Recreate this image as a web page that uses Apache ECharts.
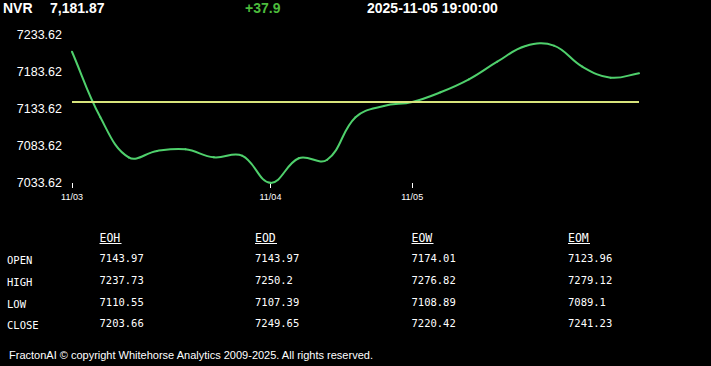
<!DOCTYPE html>
<html>
<head>
<meta charset="utf-8">
<script src="https://cdn.jsdelivr.net/npm/echarts@6/dist/echarts.min.js"></script>
<style>
html,body{margin:0;padding:0;background:#000;}
#chart{width:711px;height:366px;}
</style>
</head>
<body>
<div id="chart"></div>
<script>
// ---- data ----
const symbolName = 'NVR';
const lastPrice = '7,181.87';
const change = '+37.9';
const timestamp = '2025-11-05 19:00:00';
const openValue = 7143.97;

const categories = ['11/03','11/03','11/03','11/03','11/03','11/03','11/03',
                    '11/04','11/04','11/04','11/04','11/04',
                    '11/05','11/05','11/05','11/05','11/05','11/05','11/05','11/05','11/05'];
const prices = [7211.0, 7122.4, 7068.3, 7076.9, 7079.2, 7068.3, 7070.5,
                7033.8, 7067.0, 7065.0, 7122.4, 7137.7,
                7143.1, 7156.2, 7173.7, 7197.5, 7218.8, 7219.2, 7190.8, 7176.0, 7181.87];

const yMin = 7033.62, yMax = 7233.62, yStep = 50;

const tableCols = ['EOH', 'EOD', 'EOW', 'EOM'];
const tableRows = ['OPEN', 'HIGH', 'LOW', 'CLOSE'];
const colEOH = ['7143.97', '7237.73', '7110.55', '7203.66'];
const colEOD = ['7143.97', '7250.2', '7107.39', '7249.65'];
const colEOW = ['7174.01', '7276.82', '7108.89', '7220.42'];
const colEOM = ['7123.96', '7279.12', '7089.1', '7241.23'];
const tableData = [colEOH, colEOD, colEOW, colEOM];

const footer = 'FractonAI \u00A9 copyright Whitehorse Analytics 2009-2025. All rights reserved.';

// ---- chart ----
const chart = echarts.init(document.getElementById('chart'), null, {renderer: 'svg'});

const showDay = (idx) => idx === 0 || categories[idx] !== categories[idx - 1];

const graphics = [];
const hdrFont = 'bold 14px "Liberation Sans", Arial, sans-serif';
graphics.push({type: 'text', left: 3, top: 1, style: {text: symbolName, font: hdrFont, fill: '#fff'}});
graphics.push({type: 'text', left: 50, top: 1, style: {text: lastPrice, font: hdrFont, fill: '#fff'}});
graphics.push({type: 'text', left: 245, top: 1, style: {text: change, font: hdrFont, fill: '#4cbb3c'}});
graphics.push({type: 'text', left: 367, top: 1, style: {text: timestamp, font: hdrFont, fill: '#fff'}});

const monoFont = '10.5px "DejaVu Sans Mono", "Liberation Mono", monospace';
const colX = [99.5, 255, 411.5, 568];
const rowY = [259, 280.5, 302.5, 324];
tableCols.forEach((c, i) => {
  graphics.push({type: 'text', x: colX[i], y: 238, style: {text: c, font: '11.5px "DejaVu Sans Mono", monospace', fill: '#fff', verticalAlign: 'middle'}});
  graphics.push({type: 'line', shape: {x1: colX[i], y1: 243.5, x2: colX[i] + 22, y2: 243.5}, style: {stroke: '#fff', lineWidth: 1}});
});
tableRows.forEach((r, j) => {
  graphics.push({type: 'text', x: 7, y: rowY[j] + 1, style: {text: r, font: monoFont, fill: '#fff', verticalAlign: 'middle'}});
  tableData.forEach((col, i) => {
    graphics.push({type: 'text', x: colX[i], y: rowY[j] - 1, style: {text: col[j], font: monoFont, fill: '#fff', verticalAlign: 'middle'}});
  });
});
graphics.push({type: 'text', x: 9, y: 355, style: {text: footer, font: '11px "Liberation Sans", Arial, sans-serif', fill: '#fff', verticalAlign: 'middle'}});

// tension spline segment (cardinal-like) between point i and i+1, in pixel space via axis scales
const TENSION = 0.4;
function ctrlPoints(P, i) {
  const prev = P[Math.max(i - 1, 0)], cur = P[i], next = P[Math.min(i + 1, P.length - 1)];
  const d01 = Math.hypot(cur[0] - prev[0], cur[1] - prev[1]);
  const d12 = Math.hypot(next[0] - cur[0], next[1] - cur[1]);
  const s01 = d01 / (d01 + d12 || 1), s12 = d12 / (d01 + d12 || 1);
  const fa = TENSION * s01, fb = TENSION * s12;
  return {
    before: [cur[0] - fa * (next[0] - prev[0]), cur[1] - fa * (next[1] - prev[1])],
    after: [cur[0] + fb * (next[0] - prev[0]), cur[1] + fb * (next[1] - prev[1])]
  };
}

chart.setOption({
  backgroundColor: '#000',
  animation: false,
  grid: {left: 72, right: 72, top: 35, bottom: 183, containLabel: false},
  xAxis: {
    type: 'category',
    data: categories,
    boundaryGap: false,
    axisLine: {show: false},
    axisTick: {show: true, interval: (i) => showDay(i), length: 5, lineStyle: {color: '#fff', width: 1}},
    axisLabel: {interval: (i) => showDay(i), color: '#fff', fontSize: 9, margin: 9,
      fontFamily: '"Liberation Sans", Arial, sans-serif'},
    splitLine: {show: false}
  },
  yAxis: {
    type: 'value',
    min: yMin, max: yMax, interval: yStep,
    axisLine: {show: false},
    axisTick: {show: false},
    splitLine: {show: false},
    axisLabel: {color: '#fff', fontSize: 12.5, margin: 10,
      fontFamily: '"Liberation Sans", Arial, sans-serif',
      formatter: (v) => v.toFixed(2)}
  },
  series: [{
    type: 'custom',
    data: prices.map((v, i) => [i, v]),
    encode: {x: 0, y: 1},
    clip: false,
    renderItem: function (params, api) {
      const i = params.dataIndex;
      if (i >= prices.length - 1) return null;
      const P = prices.map((v, k) => api.coord([k, v]));
      const a = ctrlPoints(P, i).after, b = ctrlPoints(P, i + 1).before;
      return {
        type: 'bezierCurve',
        shape: {x1: P[i][0], y1: P[i][1], x2: P[i + 1][0], y2: P[i + 1][1],
                cpx1: a[0], cpy1: a[1], cpx2: b[0], cpy2: b[1]},
        style: {stroke: '#4fd06c', lineWidth: 2, fill: null, lineCap: 'round'}
      };
    },
    markLine: {
      silent: true,
      symbol: 'none',
      label: {show: false},
      lineStyle: {color: '#d8e47c', width: 2, type: 'solid'},
      data: [{yAxis: openValue}]
    },
    z: 3
  }],
  graphic: graphics
});
</script>
</body>
</html>
